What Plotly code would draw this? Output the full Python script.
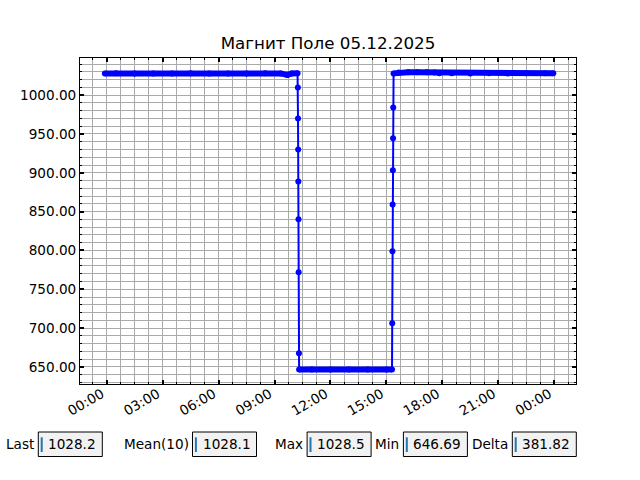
import plotly.graph_objects as go

# ---------------- data ----------------
plateau1_t = ["2025-12-04 23:54", "2025-12-05 00:30", "2025-12-05 01:30", "2025-12-05 02:30",
              "2025-12-05 03:30", "2025-12-05 04:30", "2025-12-05 05:30", "2025-12-05 06:30",
              "2025-12-05 07:30", "2025-12-05 08:30", "2025-12-05 09:20", "2025-12-05 09:41",
              "2025-12-05 09:55", "2025-12-05 10:14"]
plateau1_v = [1028.0, 1028.1, 1028.0, 1027.9, 1028.0, 1028.1, 1028.0, 1027.9,
              1028.0, 1028.1, 1028.0, 1026.0, 1028.0, 1028.1]

drop_t = ["2025-12-05 10:15:00", "2025-12-05 10:15:30", "2025-12-05 10:16:00", "2025-12-05 10:16:30",
          "2025-12-05 10:17:00", "2025-12-05 10:17:30", "2025-12-05 10:18:30"]
drop_v = [1009.9, 970.0, 930.1, 888.9, 840.0, 771.8, 667.6]

low_t = ["2025-12-05 10:19", "2025-12-05 11:00", "2025-12-05 12:00", "2025-12-05 13:00",
         "2025-12-05 14:00", "2025-12-05 15:00", "2025-12-05 15:18"]
low_v = [646.7, 646.8, 646.7, 646.69, 646.8, 646.7, 646.7]

rise_t = ["2025-12-05 15:18:40", "2025-12-05 15:19:20", "2025-12-05 15:20:00", "2025-12-05 15:20:40",
          "2025-12-05 15:21:20", "2025-12-05 15:22:00"]
rise_v = [706.2, 798.9, 859.3, 903.1, 944.3, 984.2]

plateau2_t = ["2025-12-05 15:23", "2025-12-05 15:40", "2025-12-05 16:10", "2025-12-05 16:40",
              "2025-12-05 17:10", "2025-12-05 17:35", "2025-12-05 17:50", "2025-12-05 18:30",
              "2025-12-05 19:30", "2025-12-05 20:30", "2025-12-05 21:30", "2025-12-05 22:30",
              "2025-12-05 23:30", "2025-12-05 23:57"]
plateau2_v = [1028.0, 1029.0, 1029.3, 1029.5, 1029.4, 1029.0, 1028.3, 1028.1,
              1028.0, 1028.1, 1028.0, 1028.2, 1028.1, 1028.2]

title_text = "Магнит Поле 05.12.2025"
x_range = ["2025-12-04 22:34", "2025-12-06 01:10"]
y_range = [628.0, 1047.8]

stat_labels = ["Last", "Mean(10)", "Max", "Min", "Delta"]
stat_values = ["1028.2", "1028.1", "1028.5", "646.69", "381.82"]

# ---------------- figure ----------------
W, H = 640, 480
L, R, T, B = 80, 64, 58, 96
PW, PH = W - L - R, H - T - B

def px_x(px):
    return (px - L) / PW

def px_y(py):
    return (H - B - py) / PH

FONT = "DejaVu Sans"
BLUE = "#0000ff"

all_t = plateau1_t + drop_t + low_t + rise_t + plateau2_t
all_v = plateau1_v + drop_v + low_v + rise_v + plateau2_v

fig = go.Figure()
for bt, bv in [(plateau1_t, plateau1_v), (low_t, low_v), (plateau2_t, plateau2_v)]:
    fig.add_trace(go.Scatter(x=bt, y=bv, mode="lines", line=dict(color=BLUE, width=6),
                             hoverinfo="skip", showlegend=False))
fig.add_trace(go.Scatter(x=all_t, y=all_v, mode="lines+markers",
                         line=dict(color=BLUE, width=2),
                         marker=dict(color=BLUE, size=6),
                         showlegend=False))

grid_col = "#aaaaaa"
fig.update_xaxes(
    type="date", range=x_range, tickformat="%H:%M",
    tick0="2025-12-05 00:00", dtick=3 * 3600 * 1000,
    tickangle=-30, ticks="inside", ticklen=4, tickwidth=2, tickcolor="black",
    ticklabelshift=-5, ticklabelstandoff=-4,
    showline=True, linecolor="black", linewidth=1, mirror="allticks",
    showgrid=True, gridcolor=grid_col, gridwidth=1,
    minor=dict(tick0="2025-12-05 00:00", dtick=45 * 60 * 1000, showgrid=True,
               gridcolor=grid_col, gridwidth=1, ticks="inside", ticklen=2,
               tickcolor="black", tickwidth=1),
    tickfont=dict(family=FONT, size=13.6, color="black"),
    zeroline=False,
)
fig.update_yaxes(
    range=y_range, tick0=0, dtick=50, tickformat=".2f",
    ticks="inside", ticklen=4, tickwidth=2, tickcolor="black",
    showline=True, linecolor="black", linewidth=1, mirror="allticks",
    showgrid=True, gridcolor=grid_col, gridwidth=1,
    minor=dict(tick0=0, dtick=10, showgrid=True, gridcolor=grid_col, gridwidth=1,
               ticks="inside", ticklen=2, tickcolor="black", tickwidth=1),
    tickfont=dict(family=FONT, size=13.6, color="black"),
    zeroline=False,
)

# stat boxes (pixel geometry)
box_left = [38.3, 192.5, 307.1, 403.4, 512.3]
box_w = 64.0
box_top, box_bot = 432.0, 456.5
shapes = []
annotations = []
for lab, val, bx in zip(stat_labels, stat_values, box_left):
    shapes.append(dict(type="rect", xref="paper", yref="paper",
                       x0=px_x(bx), x1=px_x(bx + box_w), y0=px_y(box_bot), y1=px_y(box_top),
                       fillcolor="#f2f2f2", line=dict(color="black", width=1), layer="above"))
    shapes.append(dict(type="line", xref="paper", yref="paper",
                       x0=px_x(bx + 3.4), x1=px_x(bx + 3.4), y0=px_y(452), y1=px_y(437.3),
                       line=dict(color="#1f77b4", width=2), layer="above"))
    annotations.append(dict(text=lab, xref="paper", yref="paper", x=px_x(bx - 2), y=px_y(444.3),
                            xanchor="right", yanchor="middle", showarrow=False,
                            font=dict(family=FONT, size=13.6, color="black")))
    annotations.append(dict(text=val, xref="paper", yref="paper", x=px_x(bx + 8), y=px_y(444.3),
                            xanchor="left", yanchor="middle", showarrow=False,
                            font=dict(family=FONT, size=13.6, color="black")))

fig.update_layout(
    width=W, height=H,
    margin=dict(l=L, r=R, t=T, b=B, autoexpand=False),
    plot_bgcolor="white", paper_bgcolor="white",
    font=dict(family=FONT, size=13.6, color="black"),
    title=dict(text=title_text, x=px_x(328), xref="paper", xanchor="center",
               yref="container", y=1 - 43 / H, yanchor="middle",
               font=dict(family=FONT, size=16.7, color="black")),
    shapes=shapes, annotations=annotations,
    showlegend=False,
)

fig.write_html("out.html", config={"displayModeBar": False},
               post_script="document.body.style.margin='0px';document.body.style.padding='0px';")
